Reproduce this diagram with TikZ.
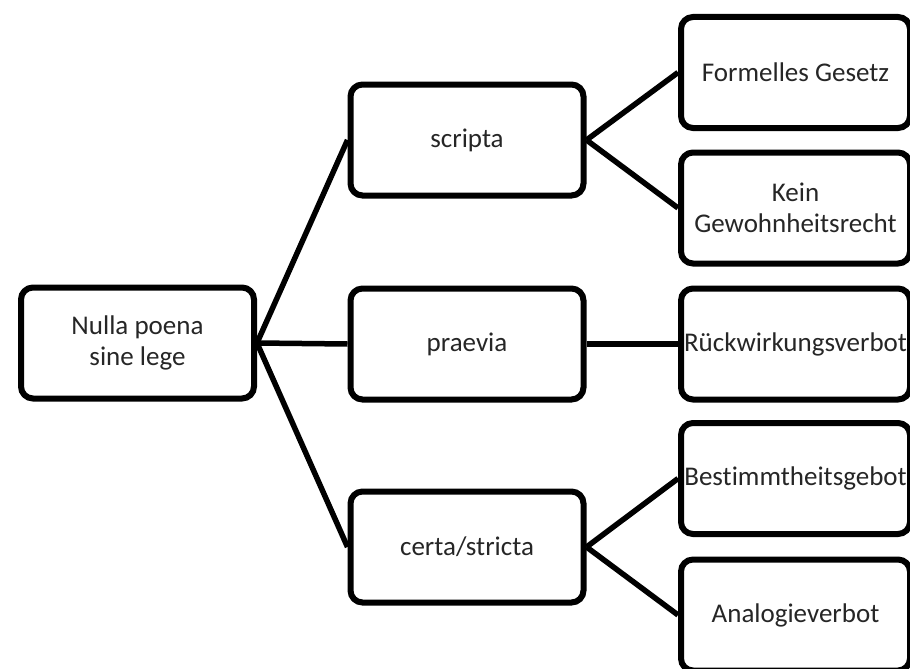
\documentclass[tikz,border=0pt]{standalone}
\usepackage{fontspec}
\setmainfont[Ligatures=NoCommon]{Carlito}
\begin{document}
\begin{tikzpicture}[x=1pt,y=-1pt,
  box/.style={draw=black, line width=6pt, rounded corners=12pt, fill=white,
    minimum width=233pt, minimum height=111pt, align=center, inner sep=0pt,
    text=black!85, font=\fontsize{27}{31}\selectfont},
  wide/.style={box, minimum width=229pt},
  link/.style={line width=5.5pt}]
\useasboundingbox (0,0) rectangle (910,669);
\clip (0,0) rectangle (910,669);
% root
\node[box] (root) at (137.5,343) {Nulla poena\\sine lege};
% second level
\node[box] (scripta) at (467,140) {scripta};
\node[box] (praevia) at (467,344) {praevia};
\node[box] (certa) at (467,547) {certa/stricta};
% third level
\node[wide] (formell) at (795.5,72.5) {Formelles Gesetz};
\node[wide] (kein) at (795.5,208) {Kein\\Gewohnheitsrecht};
\node[wide] (rueck) at (795.5,344) {Rückwirkungsverbot};
\node[wide] (bestimmt) at (795.5,478.5) {Bestimmtheitsgebot};
\node[wide] (analog) at (795.5,615) {Analogieverbot};
% connectors
\draw[link] (root.east) -- (scripta.west);
\draw[link] (root.east) -- (praevia.west);
\draw[link] (root.east) -- (certa.west);
\draw[link] (scripta.east) -- (formell.west);
\draw[link] (scripta.east) -- (kein.west);
\draw[link] (praevia.east) -- (rueck.west);
\draw[link] (certa.east) -- (bestimmt.west);
\draw[link] (certa.east) -- (analog.west);
\end{tikzpicture}
\end{document}
